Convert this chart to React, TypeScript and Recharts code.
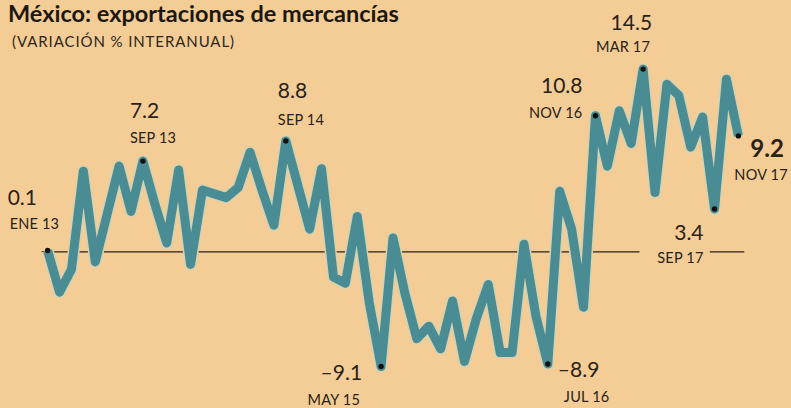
import React from 'react';
import { LineChart, Line, XAxis, YAxis, ReferenceLine, LabelList } from 'recharts';

// monthly yoy change, ENE 13 .. NOV 17
const values = [
  0.1, -3.2, -1.4, 6.4, -0.8, 3.0, 6.8, 3.2, 7.2, 3.8, 0.7, 6.5,
  -1.0, 4.9, 4.6, 4.3, 5.1, 7.9, 4.9, 2.1, 8.8, 5.3, 1.8, 6.6,
  -2.0, -2.5, 2.8, -4.0, -9.1, 1.1, -3.3, -6.9, -5.9, -7.7, -3.9, -8.7,
  -5.3, -2.6, -8.0, -8.0, 0.6, -5.1, -8.9, 4.8, 1.8, -4.4, 10.8, 6.8,
  11.2, 8.6, 14.5, 4.7, 13.3, 12.4, 8.3, 10.7, 3.4, 13.7, 9.2,
];

const markIdx = [0, 8, 20, 28, 42, 46, 50, 56, 58];
const markValue = ['0.1', '7.2', '8.8', '–9.1', '–8.9', '10.8', '14.5', '3.4', '9.2'];
const markMonth = ['ENE 13', 'SEP 13', 'SEP 14', 'MAY 15', 'JUL 16', 'NOV 16', 'MAR 17', 'SEP 17', 'NOV 17'];

const data = values.map((v, i) => ({ i, v }));

// label placement relative to the marked point: [anchor, dxValue, dyValue, dxMonth, dyMonth]
const place: Record<number, [string, number, number, number, number]> = {
  0: ['start', -40, -46, -38, -22],
  8: ['start', -13, -43, -13, -18],
  20: ['start', -8, -43, -8, -16],
  28: ['end', -19, 14, -21, 39],
  42: ['start', 10, 13, 16, 38],
  46: ['end', -13, -23, -13, 2],
  50: ['end', 9, -39, 7, -17],
  56: ['end', -11, 31, -11, 54],
  58: ['start', 12, 21, -4, 44],
};

const teal = '#4a8c94';
const ink = '#2a2118';

const renderDot = (props: any) => {
  const { cx, cy, index } = props;
  if (!markIdx.includes(index)) return <g key={`d${index}`} />;
  return <circle key={`d${index}`} cx={cx} cy={cy} r={2.7} fill="#111" />;
};

const renderMark = (props: any) => {
  const { x, y, index } = props;
  const k = markIdx.indexOf(index);
  if (k < 0) return null;
  const [anchor, dxv, dyv, dxm, dym] = place[index];
  const last = index === 58;
  return (
    <g key={`m${index}`} fontFamily="Lato, sans-serif" fill={ink}>
      <text
        x={x + dxv}
        y={y + dyv}
        textAnchor={anchor as any}
        fontSize={last ? 24 : 21}
        fontWeight={last ? 700 : 400}
      >
        {markValue[k]}
      </text>
      <text
        x={x + dxm}
        y={y + dym}
        textAnchor={anchor as any}
        fontSize={14.5}
        letterSpacing={0.2}
      >
        {markMonth[k]}
      </text>
    </g>
  );
};

export default function App() {
  return (
    <div
      style={{
        position: 'absolute',
        left: 0,
        top: 0,
        width: 791,
        height: 408,
        overflow: 'hidden',
        background: '#f3cd95',
        fontFamily: 'Lato, sans-serif',
      }}
    >
      <div
        style={{
          position: 'absolute',
          left: 8,
          top: 1,
          fontSize: 23.5,
          lineHeight: '24px',
          fontWeight: 700,
          color: '#1c1712',
          whiteSpace: 'nowrap',
        }}
      >
        México: exportaciones de mercancías
      </div>
      <div
        style={{
          position: 'absolute',
          left: 12,
          top: 34,
          fontSize: 15,
          lineHeight: '15px',
          letterSpacing: 0.9,
          color: '#2e261d',
          whiteSpace: 'nowrap',
        }}
      >
        (VARIACIÓN % INTERANUAL)
      </div>
      <div style={{ position: 'absolute', left: 0, top: 0 }}>
        <LineChart
          width={791}
          height={408}
          data={data}
          margin={{ top: 25, right: 5, bottom: 5, left: 0 }}
        >
          <XAxis dataKey="i" type="number" domain={[-4, 62]} hide />
          <YAxis type="number" domain={[-12, 18]} hide />
          <ReferenceLine
            segment={[{ x: -0.5, y: 0 }, { x: 49.7, y: 0 }]}
            stroke={ink}
            strokeWidth={1.3}
          />
          <ReferenceLine
            segment={[{ x: 55.6, y: 0 }, { x: 58.5, y: 0 }]}
            stroke={ink}
            strokeWidth={1.3}
          />
          <Line
            dataKey="v"
            type="linear"
            stroke="#d6d2b0"
            strokeWidth={12}
            strokeLinejoin="round"
            dot={false}
            isAnimationActive={false}
          />
          <Line
            dataKey="v"
            type="linear"
            stroke={teal}
            strokeWidth={9}
            strokeLinejoin="round"
            dot={renderDot}
            activeDot={false}
            isAnimationActive={false}
          >
            <LabelList dataKey="v" content={renderMark} />
          </Line>
        </LineChart>
      </div>
    </div>
  );
}
